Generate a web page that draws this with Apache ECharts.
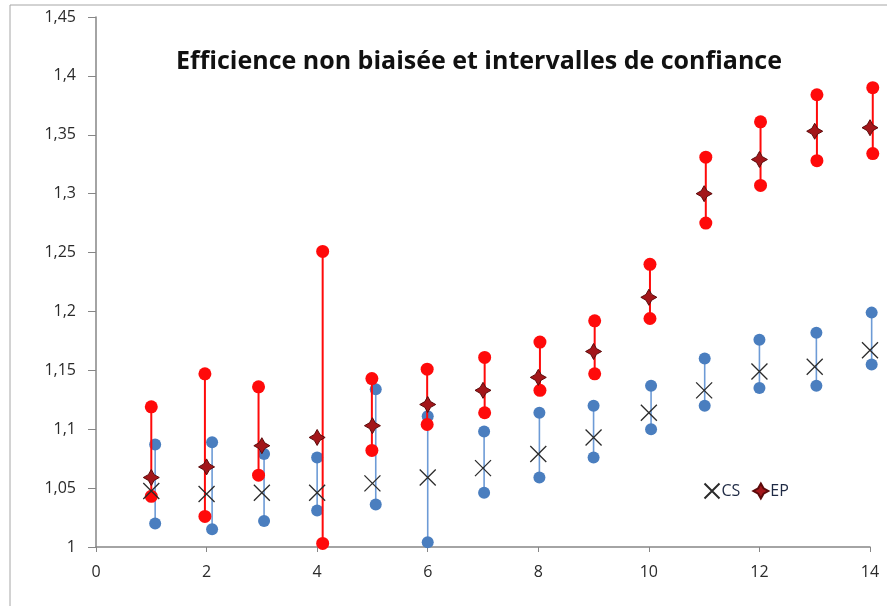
<!DOCTYPE html>
<html>
<head>
<meta charset="utf-8">
<script src="https://cdn.jsdelivr.net/npm/echarts@6/dist/echarts.min.js"></script>
<style>
  html, body { margin: 0; padding: 0; background: #fff; }
  #chart { width: 887px; height: 606px; }
</style>
</head>
<body>
<div id="chart"></div>
<script>
// abscisses
const xValues = [1, 2, 3, 4, 5, 6, 7, 8, 9, 10, 11, 12, 13, 14];
// positions des barres d'intervalle (legerement decalees dans l'original)
const csBarX = [1.07, 2.1, 3.04, 4.0, 5.06, 6.0, 7.02, 8.02, 9.0, 10.04, 11.01, 12.0, 13.03, 14.03];
const epBarX = [1.0, 1.97, 2.94, 4.1, 4.99, 5.99, 7.03, 8.03, 9.02, 10.02, 11.03, 12.02, 13.04, 14.05];

// CS : estimation et intervalle de confiance
const csValues = [1.0475, 1.045, 1.046, 1.046, 1.054, 1.059, 1.067, 1.079, 1.093, 1.114, 1.133, 1.149, 1.153, 1.167];
const csLow    = [1.020, 1.015, 1.022, 1.031, 1.036, 1.004, 1.046, 1.059, 1.076, 1.100, 1.120, 1.135, 1.137, 1.155];
const csHigh   = [1.087, 1.089, 1.079, 1.076, 1.134, 1.111, 1.098, 1.114, 1.120, 1.137, 1.160, 1.176, 1.182, 1.199];

// EP : estimation et intervalle de confiance
const epValues = [1.059, 1.068, 1.086, 1.093, 1.103, 1.121, 1.133, 1.144, 1.166, 1.212, 1.300, 1.329, 1.353, 1.356];
const epLow    = [1.043, 1.026, 1.061, 1.003, 1.082, 1.104, 1.114, 1.133, 1.147, 1.194, 1.275, 1.307, 1.328, 1.334];
const epHigh   = [1.119, 1.147, 1.136, 1.251, 1.143, 1.151, 1.161, 1.174, 1.192, 1.240, 1.331, 1.361, 1.384, 1.390];

const yTicks = [1, 1.05, 1.1, 1.15, 1.2, 1.25, 1.3, 1.35, 1.4, 1.45];
const xTicks = [0, 2, 4, 6, 8, 10, 12, 14];

const blue = '#4a7ebf';
const blueLine = '#6d9bd6';
const red = '#ff0a0a';

const crossPath = 'path://M0,0L10,10M10,0L0,10';
const starPath = 'path://M0,-10L3.6,-3.6L10,0L3.6,3.6L0,10L-3.6,3.6L-10,0L-3.6,-3.6Z';

// barre verticale entre borne basse et borne haute
function barRenderer(color, width) {
  return function (params, api) {
    const p1 = api.coord([api.value(0), api.value(1)]);
    const p2 = api.coord([api.value(0), api.value(2)]);
    return {
      type: 'line',
      shape: { x1: p1[0], y1: p1[1], x2: p2[0], y2: p2[1] },
      style: { stroke: color, lineWidth: width }
    };
  };
}

const chart = echarts.init(document.getElementById('chart'));
chart.setOption({
  animation: false,
  backgroundColor: '#fff',
  textStyle: { fontFamily: 'Open Sans' },
  graphic: [{
    type: 'rect',
    shape: { x: 10, y: 5, width: 900, height: 700 },
    style: { fill: 'none', stroke: '#a6a6a6', lineWidth: 1 },
    z: -10
  }],
  title: {
    text: 'Efficience non biaisée et intervalles de confiance',
    left: 176,
    top: 49,
    padding: 0,
    textStyle: { fontFamily: 'Open Sans', fontWeight: 'bold', fontSize: 25, color: '#111' }
  },
  legend: {
    left: 697,
    top: 476,
    itemWidth: 15,
    itemHeight: 15,
    itemGap: 12,
    data: ['CS', 'EP'],
    textStyle: { fontSize: 16, color: '#1f2a44', padding: [0, 0, 0, -3] }
  },
  grid: { left: 96, right: 17, top: 17, bottom: 59 },
  xAxis: {
    type: 'value',
    min: 0,
    max: 14,
    interval: 2,
    splitLine: { show: false },
    axisLine: { lineStyle: { color: '#868686', width: 1.5 } },
    axisTick: { show: true, length: 5, lineStyle: { color: '#868686' } },
    axisLabel: {
      margin: 17,
      fontSize: 16,
      color: '#2a2a2a',
      formatter: v => xTicks.includes(v) ? String(v) : ''
    }
  },
  yAxis: {
    type: 'value',
    min: 1,
    max: 1.45,
    interval: 0.05,
    splitLine: { show: false },
    axisLine: { show: true, lineStyle: { color: '#868686', width: 1.5 } },
    axisTick: { show: true, length: 8, lineStyle: { color: '#868686' } },
    axisLabel: {
      margin: 20,
      fontSize: 16,
      color: '#2a2a2a',
      formatter: v => {
        const t = yTicks.find(k => Math.abs(k - v) < 1e-6);
        return t === undefined ? '' : String(t).replace('.', ',');
      }
    }
  },
  series: [
    {
      name: 'CS interval',
      type: 'custom',
      renderItem: barRenderer(blueLine, 1.6),
      clip: false,
      data: csBarX.map((x, i) => [x, csLow[i], csHigh[i]]),
      z: 1
    },
    {
      name: 'CS bounds',
      type: 'scatter',
      symbol: 'circle',
      symbolSize: 12,
      clip: false,
      itemStyle: { color: blue, opacity: 1 },
      data: csBarX.map((x, i) => [x, csLow[i]]).concat(csBarX.map((x, i) => [x, csHigh[i]])),
      z: 2
    },
    {
      name: 'EP interval',
      type: 'custom',
      renderItem: barRenderer(red, 2),
      clip: false,
      data: epBarX.map((x, i) => [x, epLow[i], epHigh[i]]),
      z: 3
    },
    {
      name: 'EP bounds',
      type: 'scatter',
      symbol: 'circle',
      symbolSize: 13,
      clip: false,
      itemStyle: { color: red, opacity: 1 },
      data: epBarX.map((x, i) => [x, epLow[i]]).concat(epBarX.map((x, i) => [x, epHigh[i]])),
      z: 4
    },
    {
      name: 'CS',
      type: 'scatter',
      symbol: crossPath,
      symbolSize: 16,
      clip: false,
      itemStyle: { color: 'none', borderColor: '#2b2b2b', borderWidth: 1.3, opacity: 1 },
      data: xValues.map((x, i) => [x, csValues[i]]),
      z: 5
    },
    {
      name: 'EP',
      type: 'scatter',
      symbol: starPath,
      symbolSize: 16,
      clip: false,
      itemStyle: { color: '#a3161a', borderColor: '#5c0a0a', borderWidth: 1, opacity: 1 },
      data: xValues.map((x, i) => [x, epValues[i]]),
      z: 6
    }
  ]
});
</script>
</body>
</html>
